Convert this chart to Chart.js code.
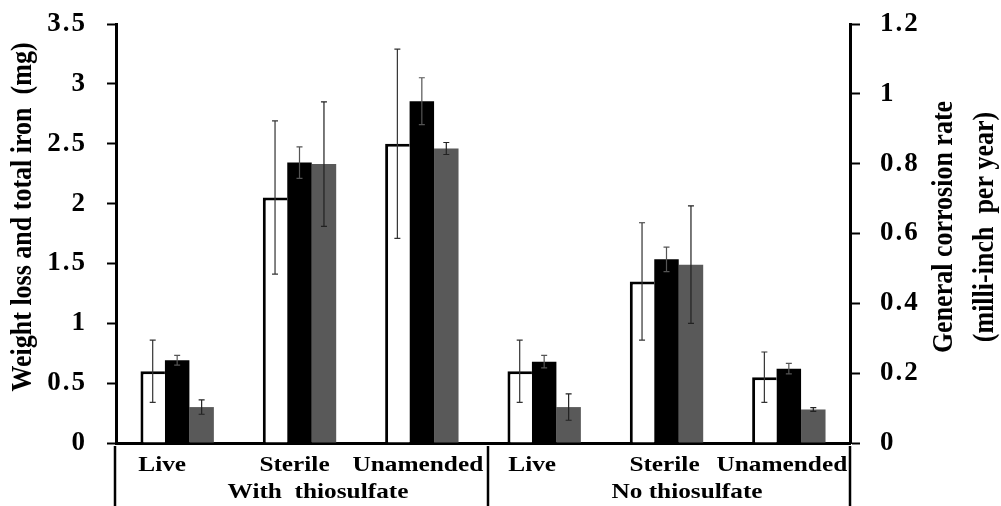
<!DOCTYPE html>
<html><head><meta charset="utf-8">
<script src="https://cdn.jsdelivr.net/npm/chart.js@4.4.0/dist/chart.umd.min.js"></script>
<style>html,body{margin:0;padding:0;background:#fff;}#wrap{width:1001px;height:506px;position:relative;}</style>
</head><body><div id="wrap"><canvas id="c"></canvas></div>
<script>
const categories = ['Live', 'Sterile', 'Unamended', 'Live', 'Sterile', 'Unamended'];
const groupLabels = ['With  thiosulfate', 'No thiosulfate'];
const weightLoss = [0.60, 2.05, 2.50, 0.60, 1.35, 0.55];
const weightLossErr = [0.26, 0.64, 0.79, 0.26, 0.49, 0.21];
const corrosionRate = [0.237, 0.803, 0.979, 0.233, 0.526, 0.213];
const corrosionRateErr = [0.014, 0.045, 0.067, 0.018, 0.035, 0.015];
const totalIron = [0.30, 2.33, 2.46, 0.30, 1.49, 0.28];
const totalIronErr = [0.06, 0.52, 0.05, 0.11, 0.49, 0.015];
const leftTicks = [0, 0.5, 1, 1.5, 2, 2.5, 3, 3.5];
const rightTicks = [0, 0.2, 0.4, 0.6, 0.8, 1, 1.2];
const leftTitle = 'Weight loss and total iron  (mg)';
const rightTitle = ['General corrosion rate', '(milli-inch  per year)'];

const SERIF = "'Liberation Serif', 'Times New Roman', serif";
const labelShift = [-15, -5, -4, -12, -2, -7];

const spacing = {
  id: 'spacing',
  beforeDraw(chart) { chart.ctx.letterSpacing = '2px'; },
  afterDraw(chart) { chart.ctx.letterSpacing = '0px'; }
};

const errorBars = {
  id: 'errorBars',
  afterDatasetsDraw(chart) {
    const ctx = chart.ctx;
    chart.data.datasets.forEach((ds, di) => {
      const meta = chart.getDatasetMeta(di);
      const ys = chart.scales[meta.yAxisID];
      meta.data.forEach((bar, i) => {
        const v = ds.data[i], e = ds.errors[i];
        const top = ys.getPixelForValue(v + e), bot = ys.getPixelForValue(v - e);
        ctx.save();
        ctx.strokeStyle = ds.errorColor;
        ctx.lineWidth = 1.2;
        ctx.beginPath();
        ctx.moveTo(bar.x, top); ctx.lineTo(bar.x, bot);
        ctx.moveTo(bar.x - 3, top); ctx.lineTo(bar.x + 3, top);
        ctx.moveTo(bar.x - 3, bot); ctx.lineTo(bar.x + 3, bot);
        ctx.stroke();
        ctx.restore();
      });
    });
  }
};

const decorations = {
  id: 'decorations',
  afterDraw(chart) {
    const ctx = chart.ctx, ca = chart.chartArea, xs = chart.scales.x;
    ctx.save();
    ctx.letterSpacing = '0px';
    ctx.fillStyle = '#000';
    ctx.strokeStyle = '#000';
    // Axis titles
    ctx.font = 'bold 26px ' + SERIF;
    ctx.textAlign = 'center';
    ctx.textBaseline = 'middle';
    ctx.save();
    ctx.translate(24, 217);
    ctx.rotate(-Math.PI / 2);
    ctx.scale(1, 1.1);
    ctx.fillText(leftTitle, 0, 0);
    ctx.restore();
    ctx.save();
    ctx.translate(945, 227);
    ctx.rotate(-Math.PI / 2);
    ctx.scale(1, 1.1);
    ctx.fillText(rightTitle[0], 0, 0);
    ctx.fillText(rightTitle[1], 0, 37);
    ctx.restore();
    // separators below the axis
    const mid = (xs.getPixelForValue(2) + xs.getPixelForValue(3)) / 2 + 5;
    ctx.lineWidth = 2.5;
    ctx.beginPath();
    [ca.left - 1, mid, ca.right].forEach(x => {
      ctx.moveTo(x, ca.bottom + 3);
      ctx.lineTo(x, chart.height);
    });
    ctx.stroke();
    // category labels
    ctx.font = 'bold 22px ' + SERIF;
    ctx.textBaseline = 'alphabetic';
    const drawWide = (t, x, y) => {
      ctx.save();
      ctx.translate(x, y);
      ctx.scale(1.15, 1);
      ctx.fillText(t, 0, 0);
      ctx.restore();
    };
    categories.forEach((c, i) => drawWide(c, xs.getPixelForValue(i) + labelShift[i], 471));
    drawWide(groupLabels[0], (ca.left + mid) / 2 + 16, 498);
    drawWide(groupLabels[1], (mid + ca.right) / 2 + 18, 498);
    ctx.restore();
  }
};

const tickFont = { family: SERIF, size: 27, weight: 'bold' };
const fmt = v => String(v);

new Chart(document.getElementById('c'), {
  type: 'bar',
  data: {
    labels: categories,
    datasets: [
      { label: 'Weight loss', data: weightLoss, errors: weightLossErr, errorColor: '#333',
        yAxisID: 'y', backgroundColor: '#fff', borderColor: '#000',
        borderWidth: { left: 3, top: 3, right: 0, bottom: 0 }, borderSkipped: false },
      { label: 'General corrosion rate', data: corrosionRate, errors: corrosionRateErr, errorColor: '#555',
        yAxisID: 'y1', backgroundColor: '#000', borderWidth: 0 },
      { label: 'Total iron', data: totalIron, errors: totalIronErr, errorColor: '#222',
        yAxisID: 'y', backgroundColor: '#595959', borderWidth: 0 }
    ]
  },
  options: {
    responsive: true,
    maintainAspectRatio: false,
    animation: false,
    layout: { padding: { top: 24, bottom: 0, left: 0, right: 0 } },
    datasets: { bar: { categoryPercentage: 0.6, barPercentage: 1.0 } },
    plugins: { legend: { display: false }, tooltip: { enabled: false } },
    scales: {
      x: {
        ticks: { display: false },
        grid: { display: false },
        border: { display: true, color: '#000', width: 3 },
        afterFit: s => { s.height = 63; }
      },
      y: {
        position: 'left', min: 0, max: 3.5,
        afterBuildTicks: s => { s.ticks = leftTicks.map(v => ({ value: v })); },
        ticks: { color: '#000', font: tickFont, padding: 20, callback: fmt },
        grid: { drawOnChartArea: false, drawTicks: true, tickLength: 9, tickWidth: 2, tickColor: '#000', color: '#000' },
        border: { display: true, color: '#000', width: 3 },
        afterFit: s => { s.width = 116; s.paddingTop = 0; s.paddingBottom = 0; }
      },
      y1: {
        position: 'right', min: 0, max: 1.2,
        afterBuildTicks: s => { s.ticks = rightTicks.map(v => ({ value: v })); },
        ticks: { color: '#000', font: tickFont, padding: 20, callback: fmt },
        grid: { drawOnChartArea: false, drawTicks: true, tickLength: 10, tickWidth: 2, tickColor: '#000', color: '#000' },
        border: { display: true, color: '#000', width: 3 },
        afterFit: s => { s.width = 151; s.paddingTop = 0; s.paddingBottom = 0; }
      }
    }
  },
  plugins: [spacing, errorBars, decorations]
});
</script></body></html>
